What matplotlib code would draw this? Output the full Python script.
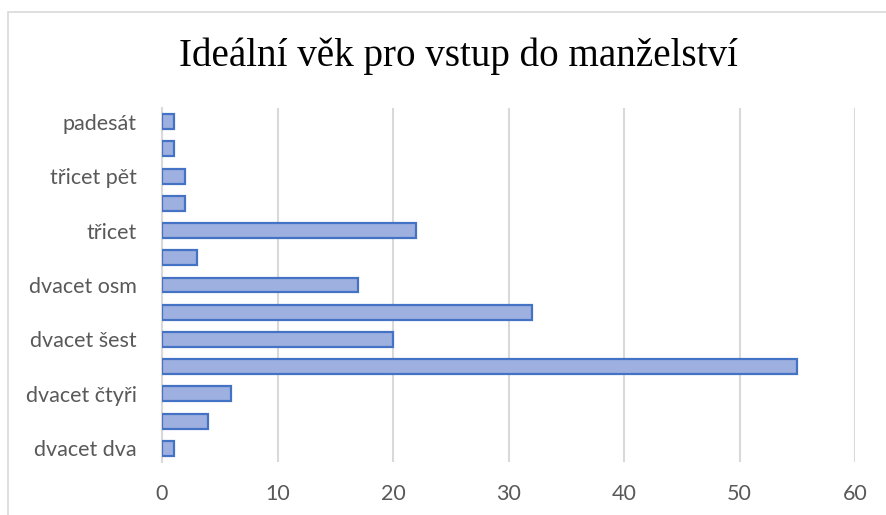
import numpy as np
import matplotlib.pyplot as plt
from matplotlib.patches import Rectangle

# age categories, bottom to top
ages = ["dvacet dva", "dvacet tři", "dvacet čtyři", "dvacet pět", "dvacet šest",
        "dvacet sedm", "dvacet osm", "dvacet devět", "třicet", "třicet tři",
        "třicet pět", "čtyřicet", "padesát"]
counts = [1, 4, 6, 55, 20, 32, 17, 3, 22, 2, 2, 1, 1]
x_ticks = [0, 10, 20, 30, 40, 50, 60]

title = "Ideální věk pro vstup do manželství"


def main():
    fig = plt.figure(figsize=(8.86, 5.15), dpi=100)
    ax = fig.add_axes([162 / 886, 1 - 462 / 515, (855 - 162) / 886, (462 - 108) / 515])

    y = np.arange(len(ages))
    ax.barh(y, counts, height=0.55, color="#9DB0DF", edgecolor="#4472C4",
            linewidth=1.6, zorder=3)

    ax.set_ylim(-0.5, len(ages) - 0.5)
    ax.set_xlim(0, 60)
    ax.set_xticks(x_ticks)
    ax.set_yticks(y[::2])
    ax.set_yticklabels(ages[::2])

    ax.grid(axis="x", color="#D9D9D9", linewidth=1.5, zorder=0)
    for s in ["top", "right", "bottom"]:
        ax.spines[s].set_visible(False)
    ax.spines["left"].set_color("#D9D9D9")
    ax.spines["left"].set_linewidth(1.5)
    ax.tick_params(length=0, labelcolor="#595959", labelsize=15.5)
    ax.tick_params(axis="x", pad=16)
    ax.tick_params(axis="y", pad=18)
    for lab in ax.get_xticklabels() + ax.get_yticklabels():
        lab.set_fontfamily("Lato")

    fig.text(458 / 886, 1 - 56 / 515, title, ha="center", va="center",
             fontsize=28.2, family="Liberation Serif", color="black")

    # chart border (only top and left visible in the crop)
    fig.patches.append(Rectangle((8 / 886, -0.1), 1.2, 1 - 12 / 515 + 0.1,
                                 transform=fig.transFigure, fill=False,
                                 edgecolor="#D9D9D9", linewidth=1.2))

    fig.savefig("out.png", dpi=100)


if __name__ == "__main__":
    main()
